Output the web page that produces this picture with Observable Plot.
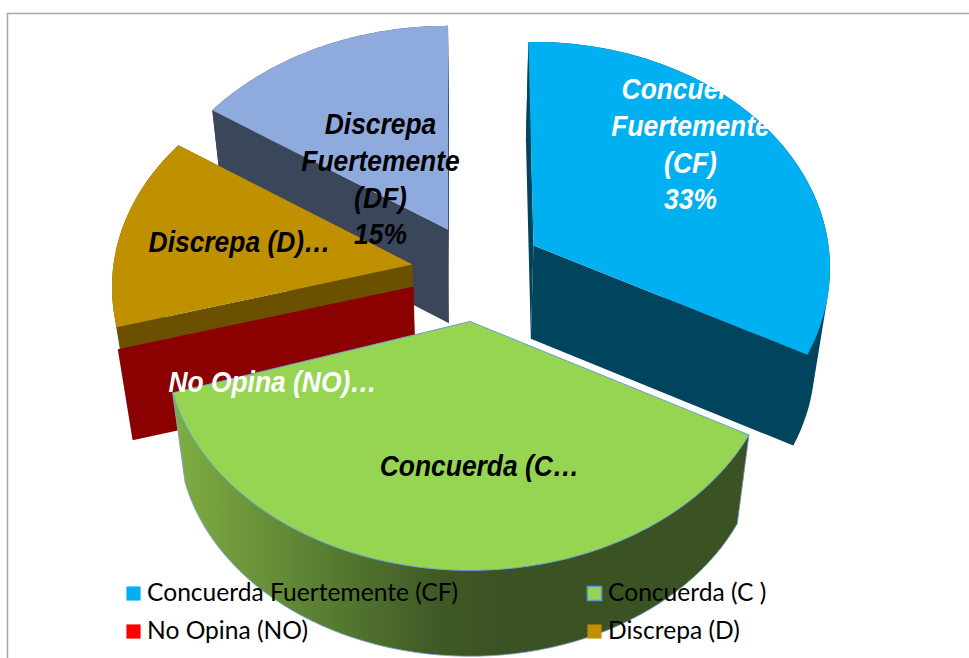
<!DOCTYPE html>
<html><head><meta charset="utf-8">
<script src="https://cdn.jsdelivr.net/npm/d3@7"></script>
<script src="https://cdn.jsdelivr.net/npm/@observablehq/plot@0.6"></script>
<style>html,body{margin:0;padding:0;background:#fff}svg{display:block}</style>
</head><body><div id="chart"></div>
<script>
// ---- data ----
const categories = ["Concuerda Fuertemente (CF)", "Concuerda (C )", "No Opina (NO)", "Discrepa (D)", "Discrepa Fuertemente (DF)"];
const shares = [33, 37, 0.6, 13.9, 15.5];
const sliceLabels = ["Concuerda\nFuertemente\n(CF)\n33%", "Concuerda (C…", "No Opina (NO)…", "Discrepa (D)…", "Discrepa\nFuertemente\n(DF)\n15%"];
const legendCategories = categories.slice(0, 4);

// ---- styles ----
const topColors = ["#00B0F0", "#96D552", "#FF0000", "#BF9000", "#8FAADC"];
const sideColors = ["#00445E", "url(#greenSide)", "#8B0000", "#6B5000", "#3A475A"];
const labelColors = ["#fff", "#000", "#fff", "#000", "#000"];

// ---- layout of the exploded 3-D pie (pixels) ----
const W = 969, H = 658;
const apexX = [533, 469.5, 413, 412, 447.5];
const apexY = [245, 321, 286, 264, 229];
const radiusX = [295, 303, 299, 299, 301];
const turn = [-1.1, 0, 0, 0, 0];
const labelX = [690, 479, 272, 239, 380];
const labelY = [142, 464, 380, 240, 177];
const A = 224, K = 0.1;
const legendX = [133, 594, 133, 594], legendY = [593, 593, 631, 631];

// Perspective projection of a point on the rim of a slice and its extrusion
const rimPoint = (i, deg) => {
  const t = (deg + turn[i]) * Math.PI / 180, c = Math.cos(t), s = Math.sin(t), w = 1 + K * c;
  return [apexX[i] + radiusX[i] * s / w, apexY[i] - A * c / w];
};
const down = ([x, y]) => [470 + (x - 470) * 0.958, 0.977 * y + 99];

const angles = [];
shares.reduce((acc, v) => { angles.push([acc * 3.6, (acc + v) * 3.6]); return acc + v; }, 0);
const arc = (i, a0, a1) => d3.range(0, 61).map(k => rimPoint(i, a0 + (a1 - a0) * k / 60));
const apex = i => [apexX[i], apexY[i]];

const poly = (pts, fill, extra = {}) =>
  Plot.line([...pts, pts[0]], {x: d => d[0], y: d => d[1], fill, stroke: "none", curve: "linear", ...extra});

const sliceMarks = i => {
  const [a0, a1] = angles[i], rim = arc(i, a0, a1), side = sideColors[i];
  const face = deg => { const r = rimPoint(i, deg); return poly([apex(i), r, down(r), down(apex(i))], side); };
  return [
    face(a0), face(a1),
    poly(d3.polygonHull([...rim, ...rim.map(down)]), side, i === 1 ? {stroke: "#7FA8D8", strokeWidth: 0.8} : {}),
    poly([apex(i), ...rim], topColors[i], i === 1 ? {stroke: "#6FA3D8", strokeWidth: 1} : {})
  ];
};
// the No Opina slice only shows its dark radial face in the reference
const noOpinaFace = () => {
  const r = rimPoint(2, angles[2][1]);
  return [poly([apex(2), r, down(r), down(apex(2))], sideColors[2])];
};

const defs = () => {
  const svg = d3.create("svg:defs");
  const g = svg.append("linearGradient").attr("id", "greenSide")
    .attr("gradientUnits", "userSpaceOnUse").attr("x1", 173).attr("x2", 500).attr("y1", 0).attr("y2", 0);
  [[0, "#7FAE42"], [0.4, "#5E8435"], [0.8, "#3F5A25"], [1, "#3B5222"]].forEach(([o, c]) =>
    g.append("stop").attr("offset", o).attr("stop-color", c));
  return svg.node();
};

const labels = categories.map((c, i) => ({t: sliceLabels[i], x: labelX[i], y: labelY[i], c: labelColors[i]}));
const legend = legendCategories.map((c, i) => ({t: c, x: legendX[i], y: legendY[i], f: topColors[i], s: i === 1 ? "#5B9BD5" : "none"}));

const chart = Plot.plot({
  width: W, height: H, margin: 0,
  x: {domain: [0, W], range: [0, W], axis: null},
  y: {domain: [0, H], range: [0, H], axis: null},
  style: {background: "#fff", overflow: "hidden"},
  marks: [
    defs,
    Plot.ruleX([7], {y1: 13, y2: H, stroke: "#A6A6A6", strokeWidth: 1.5}),
    Plot.ruleY([13], {x1: 7, x2: W, stroke: "#A6A6A6", strokeWidth: 1.5}),
    ...sliceMarks(4),
    ...sliceMarks(3),
    ...noOpinaFace(),
    ...sliceMarks(0),
    ...sliceMarks(1),
    Plot.text(labels, {x: "x", y: "y", text: "t", fill: "c", fontSize: 30, fontWeight: "bold", fontStyle: "italic",
      fontFamily: "Liberation Sans", lineHeight: 1.22, textAnchor: "middle"}),
    Plot.dot(legend, {x: "x", y: "y", symbol: "square", r: 8, fill: "f", stroke: "s", strokeWidth: 1.5}),
    Plot.text(legend, {x: d => d.x + 13.5, y: "y", text: "t", fill: "#000", fontSize: 24.6, fontFamily: "Lato", textAnchor: "start"})
  ]
});
// the reference's data labels are stretched tall and narrow (first text mark)
d3.select(chart).selectAll('g[aria-label="text"]').filter((d, i) => i === 0).selectAll("text")
  .attr("transform", function () { return (this.getAttribute("transform") || "") + " scale(0.88,1)"; });
document.getElementById("chart").appendChild(chart);
</script></body></html>
